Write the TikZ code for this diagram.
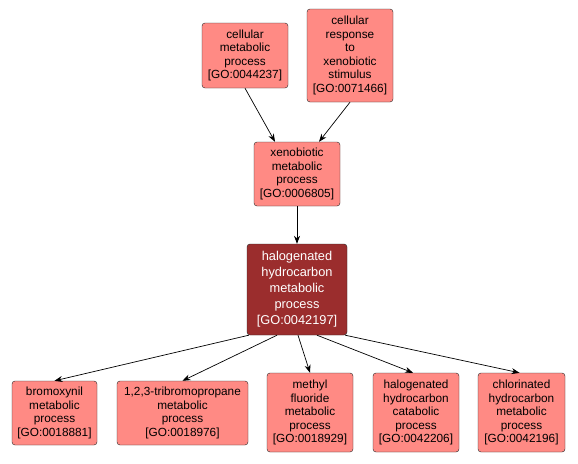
\documentclass[tikz,border=0pt]{standalone}
\usepackage{fontspec}
\setmainfont{Liberation Sans}
\usetikzlibrary{arrows.meta}
\definecolor{termfill}{RGB}{255,138,132}
\definecolor{focusfill}{RGB}{155,45,45}

\begin{document}
\begin{tikzpicture}[x=1pt, y=-1pt, >={Stealth[length=8pt,width=6pt]},
    term/.style={draw=black!85, fill=termfill, rounded corners=3pt, align=center,
        inner sep=0pt, minimum width=86pt, font=\fontsize{11.8}{13.5}\selectfont},
    focus/.style={term, fill=focusfill, text=white, minimum width=100pt,
        font=\fontsize{12.8}{16}\selectfont},
    link/.style={->, black, line width=0.7pt}]
    \fill[white] (0,0) rectangle (578,463);
    \useasboundingbox (0,0) rectangle (578,463);

    % Parent terms
    \node[term, minimum height=65pt] (cellmeta) at (245,55.5)
        {cellular\\metabolic\\process\\{[GO:0044237]}};
    \node[term, minimum height=93pt] (xenoresp) at (350,55.5)
        {cellular\\response\\to\\xenobiotic\\stimulus\\{[GO:0071466]}};
    \node[term, minimum height=64pt] (xenometa) at (297,174)
        {xenobiotic\\metabolic\\process\\{[GO:0006805]}};

    % Focus term
    \node[focus, minimum height=91pt] (halometa) at (297,289.5)
        {halogenated\\hydrocarbon\\metabolic\\process\\{[GO:0042197]}};

    % Child terms
    \node[term, minimum width=85pt, minimum height=64pt] (bromo) at (54.5,413)
        {bromoxynil\\metabolic\\process\\{[GO:0018881]}};
    \node[term, minimum width=131pt, minimum height=64pt] (tribromo) at (182.5,413)
        {1,2,3-tribromopropane\\metabolic\\process\\{[GO:0018976]}};
    \node[term, minimum height=79pt] (methyl) at (310,412.5)
        {methyl\\fluoride\\metabolic\\process\\{[GO:0018929]}};
    \node[term, minimum height=79pt] (halocat) at (416,412.5)
        {halogenated\\hydrocarbon\\catabolic\\process\\{[GO:0042206]}};
    \node[term, minimum width=87pt, minimum height=79pt] (chloro) at (521.5,412.5)
        {chlorinated\\hydrocarbon\\metabolic\\process\\{[GO:0042196]}};

    % Links
    \draw[link] (cellmeta.south) -- ([xshift=-22pt]xenometa.north);
    \draw[link] (xenoresp.south) -- ([xshift=22pt]xenometa.north);
    \draw[link] (xenometa.south) -- (halometa.north);
    \draw[link] ([xshift=2pt]halometa.south west) -- (bromo.north);
    \draw[link] ([xshift=-20pt]halometa.south) -- (tribromo.north);
    \draw[link] ([xshift=1pt]halometa.south) -- (methyl.north);
    \draw[link] ([xshift=20pt]halometa.south) -- ([xshift=-3pt]halocat.north);
    \draw[link] ([xshift=-2pt]halometa.south east) -- ([xshift=-2pt]chloro.north);
\end{tikzpicture}
\end{document}
